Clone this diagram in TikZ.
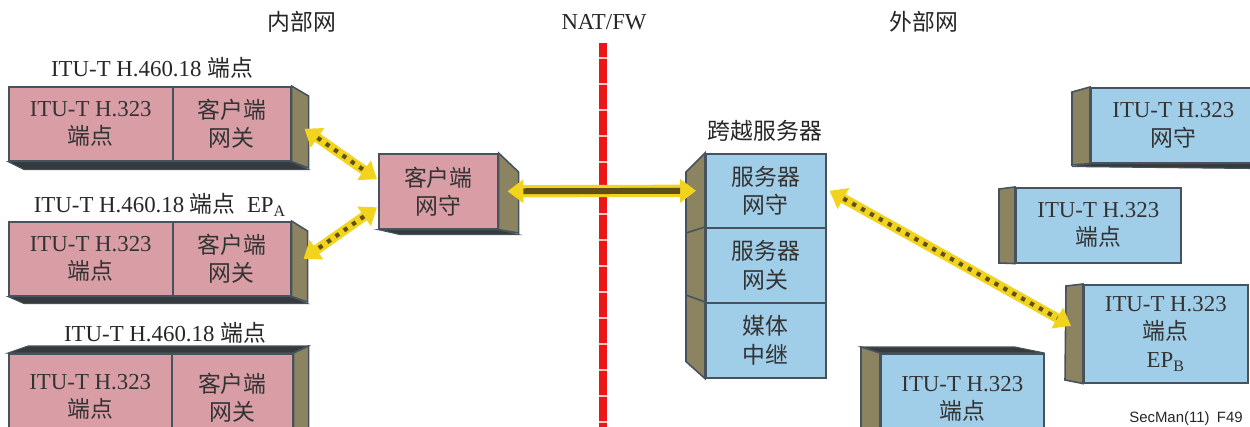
\documentclass[tikz,border=0pt]{standalone}
\usepackage{fontspec}
\setmainfont{Liberation Serif}
\newfontfamily\cjk{Noto Sans CJK SC}
\newfontfamily\figfont{Liberation Sans}
\usetikzlibrary{calc,arrows.meta}
\definecolor{pinkface}{RGB}{217,157,165}
\definecolor{blueface}{RGB}{160,205,232}
\definecolor{sideface}{RGB}{140,132,96}
\definecolor{edgeline}{RGB}{70,82,92}
\definecolor{baseface}{RGB}{55,58,60}
\definecolor{beamyellow}{RGB}{242,212,30}
\definecolor{beamdark}{RGB}{95,80,25}
\definecolor{wallred}{RGB}{236,22,22}
\newcommand{\zh}[1]{{\cjk #1}}

\begin{document}
\begin{tikzpicture}[x=0.02cm, y=-0.02cm,
    face/.style={draw=edgeline, line width=0.9pt, inner sep=0pt, align=center,
        text=black!80, font=\fontsize{13pt}{16pt}\selectfont, anchor=north west},
    pinkbox/.style={face, fill=pinkface},
    bluebox/.style={face, fill=blueface},
    side/.style={draw=edgeline, line width=0.9pt, fill=sideface},
    base/.style={draw=edgeline, line width=0.6pt, fill=baseface},
    label/.style={font=\fontsize{13pt}{16pt}\selectfont, text=black!85},
    beam/.style={line width=5.5pt, beamyellow,
        {Triangle[length=9pt,width=13pt]}-{Triangle[length=9pt,width=13pt]}},
    beadcore/.style={line width=2.4pt, beamdark, dash pattern=on 2.4pt off 3.4pt,
        shorten <=9pt, shorten >=9pt}]
    \useasboundingbox (0,0) rectangle (1250,426);

    \node[label] (inner) at (302,22) {\zh{内部网}};
    \node[label] (nat) at (604,22) {NAT/FW};
    \node[label] (outer) at (924,22) {\zh{外部网}};

    % firewall
    \coordinate (fwtop) at (603,43);
    \coordinate (fwbot) at (603,430);
    \draw[wallred, line width=4.5pt] (fwtop) -- (fwbot);
    \draw[red!25, line width=4.5pt, dash pattern=on 1.1pt off 13.7pt, dash phase=6.7pt] (fwtop) -- (fwbot);

    % inner H.460.18 endpoints
    \node[label] (l1) at (152,68) {ITU-T H.460.18 \zh{端点}};
    \node[pinkbox, minimum width=3.28cm, minimum height=1.48cm] (e1a) at (8,86) {ITU-T H.323\\\zh{端点}};
    \node[pinkbox, minimum width=2.36cm, minimum height=1.48cm] (e1b) at (172,86) {\zh{客户端}\\\zh{网关}};
    \filldraw[base] (e1a.south west) -- (e1b.south east) -- ++(17,8) -- ($(e1a.south west)+(16,8)$) -- cycle;
    \filldraw[side] (e1b.north east) -- ++(17,10) -- ++(0,72) -- (e1b.south east) -- cycle;

    \node[label] (l2) at (160,205) {ITU-T H.460.18 \zh{端点}\enspace EP\textsubscript{A}};
    \node[pinkbox, minimum width=3.28cm, minimum height=1.48cm] (e2a) at (8,221) {ITU-T H.323\\\zh{端点}};
    \node[pinkbox, minimum width=2.36cm, minimum height=1.48cm] (e2b) at (172,221) {\zh{客户端}\\\zh{网关}};
    \filldraw[base] (e2a.south west) -- (e2b.south east) -- ++(16,7) -- ($(e2a.south west)+(16,7)$) -- cycle;
    \filldraw[side] (e2b.north east) -- ++(16,10) -- ++(0,71) -- (e2b.south east) -- cycle;

    \node[label] (l3) at (165,333) {ITU-T H.460.18 \zh{端点}};
    \node[pinkbox, minimum width=3.26cm, minimum height=1.74cm] (e3a) at (8,353) {ITU-T H.323\\\zh{端点}};
    \node[pinkbox, minimum width=2.42cm, minimum height=1.74cm] (e3b) at (171,353) {\zh{客户端}\\\zh{网关}};
    \filldraw[base] (e3a.north west) -- ++(20,-7) -- ($(e3b.north east)+(15,-7)$) -- (e3b.north east) -- cycle;
    \filldraw[side] (e3b.north east) -- ++(15,-7) -- ++(0,100) -- (e3b.south east) -- cycle;

    % client gatekeeper
    \node[pinkbox, minimum width=2.38cm, minimum height=1.5cm] (cgk) at (378,153) {\zh{客户端}\\\zh{网守}};
    \filldraw[base] (cgk.south west) -- (cgk.south east) -- ++(20,5) -- ($(cgk.south west)+(22,5)$) -- cycle;
    \filldraw[side] (cgk.north east) -- ++(20,19) -- ++(0,61) -- (cgk.south east) -- cycle;

    % traversal server
    \node[label] (sbc) at (765,131) {\zh{跨越服务器}};
    \node[bluebox, minimum width=2.4cm, minimum height=1.48cm] (sgk) at (705,153) {\zh{服务器}\\\zh{网守}};
    \node[bluebox, minimum width=2.4cm, minimum height=1.5cm] (sgw) at (705,227) {\zh{服务器}\\\zh{网关}};
    \node[bluebox, minimum width=2.4cm, minimum height=1.5cm] (mr) at (705,302) {\zh{媒体}\\\zh{中继}};
    \filldraw[side] (sgk.north west) -- ++(-19,19) -- ($(mr.south west)+(-19,-17)$) -- (mr.south west) -- cycle;
    \draw[edgeline, line width=0.9pt] (sgw.north west) -- ++(-19,6);
    \draw[edgeline, line width=0.9pt] (mr.north west) -- ++(-19,-7);

    % outer H.323 devices
    \node[bluebox, minimum width=3.3cm, minimum height=1.5cm] (rgk) at (1090,87) {ITU-T H.323\\\zh{网守}};
    \filldraw[base] ($(rgk.south west)+(-18,3)$) -- (rgk.south west) -- (rgk.south east) -- ++(0,5) -- cycle;
    \filldraw[side] (rgk.north west) -- ++(-18,5) -- ++(0,73) -- (rgk.south west) -- cycle;

    \node[bluebox, minimum width=3.3cm, minimum height=1.5cm] (re1) at (1015,187) {ITU-T H.323\\\zh{端点}};
    \filldraw[side] (re1.north west) -- ++(-16,2) -- ++(0,74) -- (re1.south west) -- cycle;

    \node[bluebox, minimum width=3.28cm, minimum height=1.96cm] (epb) at (1083,284) {ITU-T H.323\\\zh{端点}\\EP\textsubscript{B}};
    \filldraw[side] (epb.north west) -- ++(-17,2) -- ++(-1,94) -- (epb.south west) -- cycle;

    \node[bluebox, minimum width=3.26cm, minimum height=1.8cm] (re2) at (880,353) {ITU-T H.323\\\zh{端点}};
    \filldraw[base] (re2.north west) -- ++(-19,-6) -- ++(154,0) -- (re2.north east) -- cycle;
    \filldraw[side] (re2.north west) -- ++(-19,-6) -- ++(0,100) -- ($(re2.north west)+(0,94)$) -- cycle;

    % signalling paths
    \draw[beam] ($(e1b.east)+(13,5)$) -- ($(cgk.west)+(-1,-12)$);
    \draw[beadcore] ($(e1b.east)+(13,5)$) -- ($(cgk.west)+(-1,-12)$);
    \draw[beam] ($(cgk.west)+(-1,16)$) -- ($(e2b.east)+(12,0)$);
    \draw[beadcore] ($(cgk.west)+(-1,16)$) -- ($(e2b.east)+(12,0)$);
    \draw[beam, line width=7pt] ($(cgk.east)+(9,0)$) -- ($(sgk.west)+(-9,0)$);
    \draw[beamdark, line width=3.4pt, shorten <=9pt, shorten >=9pt] ($(cgk.east)+(9,0)$) -- ($(sgk.west)+(-9,0)$);
    \draw[beam] ($(sgk.east)+(3,0)$) -- ($(epb.west)+(-12,-8)$);
    \draw[beadcore] ($(sgk.east)+(3,0)$) -- ($(epb.west)+(-12,-8)$);

    \node[font=\figfont\fontsize{8.5pt}{10pt}\selectfont, text=black!85] (fig) at (1186,419) {SecMan(11)\enspace F49};
\end{tikzpicture}
\end{document}
